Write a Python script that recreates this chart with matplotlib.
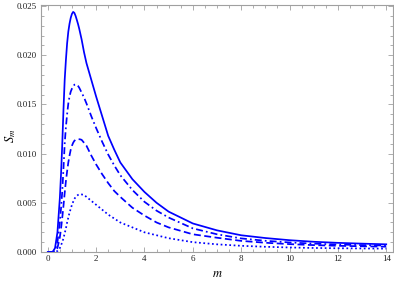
import numpy as np
import matplotlib
matplotlib.use("Agg")
import matplotlib.pyplot as plt
from matplotlib.ticker import MultipleLocator

# values
m = [0.0, 0.2, 0.3, 0.4, 0.5, 0.55, 0.6, 0.65, 0.7, 0.75, 0.8, 0.85, 0.9, 0.95, 1.0, 1.05,
     1.1, 1.15, 1.2, 1.25, 1.3, 1.35, 1.4, 1.5, 1.6, 1.8, 2.0, 2.25, 2.5, 2.75, 3.0, 3.5,
     4.0, 4.5, 5.0, 6.0, 7.0, 8.0, 9.0, 10.0, 11.0, 12.0, 13.0, 14.0]

s_solid = [0.0, 0.0, 0.0004, 0.0020, 0.0055, 0.0080, 0.0110, 0.0145, 0.0175, 0.0195, 0.0212,
           0.0224, 0.0232, 0.0238, 0.0242, 0.0244, 0.0243, 0.0240, 0.0236, 0.02318, 0.0227,
           0.02215, 0.0216, 0.0203, 0.0192, 0.0175, 0.0158, 0.0138, 0.0118, 0.0104, 0.0091,
           0.0074, 0.0061, 0.0050, 0.0041, 0.0029, 0.0022, 0.0017, 0.00142, 0.00120, 0.00104,
           0.00093, 0.00085, 0.00078]

s_dashdot = [0.0, 0.0, 0.0002, 0.0010, 0.0030, 0.0045, 0.0062, 0.0085, 0.0110, 0.0127, 0.0140,
             0.0151, 0.0158, 0.0163, 0.0166, 0.0168, 0.0170, 0.01703, 0.0170, 0.01688, 0.0167,
             0.01645, 0.0162, 0.0157, 0.0151, 0.0138, 0.0126, 0.0112, 0.0099, 0.0088, 0.0078,
             0.0063, 0.0051, 0.0042, 0.0035, 0.0024, 0.0018, 0.00138, 0.00114, 0.00097, 0.00085,
             0.00076, 0.00070, 0.00066]

s_dashed = [0.0, 0.0, 0.0001, 0.0004, 0.0015, 0.0024, 0.0035, 0.0047, 0.0060, 0.0072, 0.0082,
            0.0091, 0.0098, 0.0104, 0.0108, 0.0111, 0.0113, 0.0114, 0.01145, 0.01147, 0.01146,
            0.01144, 0.0114, 0.0111, 0.0108, 0.0098, 0.0089, 0.0079, 0.0070, 0.0062, 0.0056,
            0.0045, 0.0037, 0.0030, 0.0025, 0.0018, 0.00145, 0.00113, 0.00094, 0.00080, 0.00070,
            0.00063, 0.00058, 0.00054]

s_dotted = [0.0, 0.0, 0.0, 0.0001, 0.0004, 0.0007, 0.0010, 0.0014, 0.0019, 0.0024, 0.0030,
            0.0035, 0.0040, 0.0044, 0.0048, 0.0051, 0.0054, 0.00557, 0.0057, 0.0058, 0.00585,
            0.00587, 0.00585, 0.0058, 0.0056, 0.0052, 0.0048, 0.0043, 0.0038, 0.0034, 0.0030,
            0.0025, 0.0020, 0.0017, 0.0014, 0.00100, 0.00078, 0.00063, 0.00053, 0.00046,
            0.00041, 0.00038, 0.00036, 0.00034]

plt.rcParams['font.family'] = ['Liberation Serif', 'DejaVu Serif']
plt.rcParams['mathtext.fontset'] = 'stix'

fig = plt.figure(figsize=(3.94, 2.83), dpi=100)
ax = fig.add_axes([41/394, 31/283, 352/394, 247/283])

blue = '#0000ff'
lw = 1.25
ax.plot(m, s_solid, color=blue, lw=lw)
ax.plot(m, s_dashdot, color=blue, lw=lw, dashes=(4, 1.8, 1, 1.8))
ax.plot(m, s_dashed, color=blue, lw=lw, dashes=(4, 2))
ax.plot(m, s_dotted, color=blue, lw=lw, dashes=(1, 1.5))

ax.set_xlim(-0.28, 14.28)
ax.set_ylim(0, 0.0251)

ax.xaxis.set_major_locator(MultipleLocator(2))
ax.xaxis.set_minor_locator(MultipleLocator(0.5))
ax.yaxis.set_major_locator(MultipleLocator(0.005))
ax.yaxis.set_minor_locator(MultipleLocator(0.001))
ax.yaxis.set_major_formatter(plt.FuncFormatter(lambda v, p: f'{v:.3f}'))

frame_col = '#a0a0a0'
for sp in ax.spines.values():
    sp.set_color(frame_col)
    sp.set_linewidth(0.8)
ax.tick_params(which='both', direction='in', top=True, right=True, color=frame_col,
               width=0.6, labelsize=6.5, labelcolor='#222222')
ax.tick_params(which='major', length=3.5)
ax.tick_params(which='minor', length=2)
ax.tick_params(axis='x', pad=2.5)
ax.tick_params(axis='y', pad=3)

ax.set_xlabel('$m$', fontsize=9, labelpad=3)
ax.set_ylabel('$S_m$', fontsize=9)
ax.yaxis.set_label_coords(-0.066, 0.47)

fig.savefig('out.png', dpi=100)
